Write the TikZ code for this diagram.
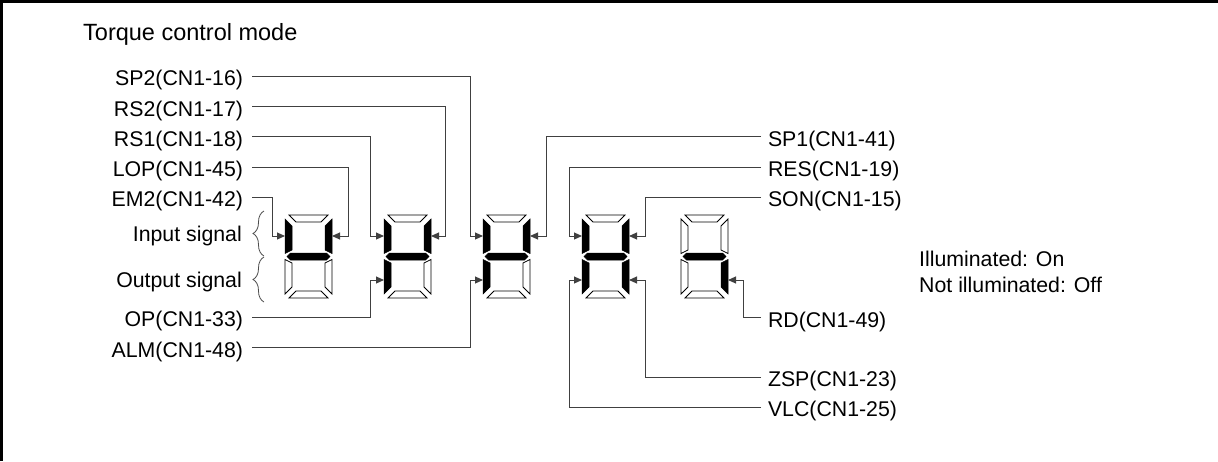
\documentclass[tikz,border=0pt]{standalone}
\usepackage{fontspec}
\setmainfont{Liberation Sans}
\usetikzlibrary{arrows.meta,decorations.pathreplacing}
\tikzset{
  lbl/.style={font=\fontsize{21.3}{25}\selectfont, inner xsep=0pt, inner ysep=0pt, text height=19pt, text depth=0pt},
  lleft/.style={lbl, anchor=east, outer xsep=9pt},
  lright/.style={lbl, anchor=west, outer xsep=7pt},
  plain/.style={font=\fontsize{21.3}{25}\selectfont, inner sep=0pt},
  conn/.style={draw=black!75, line width=1pt},
  arr/.style={conn, -{Triangle[length=8pt,width=7pt]}},
  segon/.style={fill=black, draw=black, line width=0.5pt},
  segoff/.style={fill=white, draw=black, line width=0.8pt},
  brc/.style={draw=black!70, line width=0.8pt, decorate, decoration={brace, amplitude=11pt, aspect=0.5}}
}
\newcommand\segdig[8]{%
\begin{scope}[shift={(#1,215)}]
\path[#2] (4,0) -- (43,0) -- (36,7) -- (11,7) -- cycle;
\path[#3] (47,4) -- (40,11) -- (40,35) -- (47,38.5) -- cycle;
\path[#4] (47,79) -- (40,72) -- (40,48) -- (47,44.5) -- cycle;
\path[#5] (4,83) -- (43,83) -- (36,76) -- (11,76) -- cycle;
\path[#6] (0,79) -- (7,72) -- (7,48) -- (0,44.5) -- cycle;
\path[#7] (0,4) -- (7,11) -- (7,35) -- (0,38.5) -- cycle;
\path[#8] (2,41.5) -- (5.5,38) -- (41.5,38) -- (45,41.5) -- (41.5,45) -- (5.5,45) -- cycle;
\end{scope}}
\begin{document}
\begin{tikzpicture}[x=1pt,y=-1pt]
\useasboundingbox (0,0) rectangle (1218,461);
% frame
\draw[line width=2.5pt] (1.25,461) -- (1.25,1.25) -- (1218,1.25);
% title
\node[font=\fontsize{23.5}{28}\selectfont, inner sep=0pt, anchor=base west] (title) at (83,40.7) {Torque control mode};
% digits
\segdig{285}{segoff}{segon}{segoff}{segoff}{segoff}{segon}{segon}
\segdig{384}{segoff}{segon}{segoff}{segoff}{segon}{segon}{segon}
\segdig{483}{segoff}{segon}{segoff}{segoff}{segon}{segon}{segon}
\segdig{582}{segoff}{segon}{segon}{segoff}{segon}{segon}{segon}
\segdig{681}{segoff}{segoff}{segon}{segoff}{segoff}{segoff}{segon}
% arrow targets
\coordinate (d1ul) at (285,236); \coordinate (d1ur) at (332,236);
\coordinate (d2ul) at (384,236); \coordinate (d2ur) at (431,236);
\coordinate (d2ll) at (384,280);
\coordinate (d3ul) at (483,236); \coordinate (d3ur) at (530,236);
\coordinate (d3ll) at (483,280);
\coordinate (d4ul) at (582,236); \coordinate (d4ur) at (629,236);
\coordinate (d4ll) at (582,280); \coordinate (d4lr) at (629,280);
\coordinate (d5lr) at (728,280);
% left labels
\node[lleft] (sp2) at (252,76) {SP2(CN1-16)};
\node[lleft] (rs2) at (252,106.5) {RS2(CN1-17)};
\node[lleft] (rs1) at (252,136.5) {RS1(CN1-18)};
\node[lleft] (lop) at (252,167) {LOP(CN1-45)};
\node[lleft] (em2) at (252,197) {EM2(CN1-42)};
\node[lleft] (op) at (252,317) {OP(CN1-33)};
\node[lleft] (alm) at (252,347.5) {ALM(CN1-48)};
% right labels
\node[lright] (sp1) at (761,136.5) {SP1(CN1-41)};
\node[lright] (res) at (761,167) {RES(CN1-19)};
\node[lright] (son) at (761,197) {SON(CN1-15)};
\node[lright] (rd) at (761,317.5) {RD(CN1-49)};
\node[lright] (zsp) at (761,377) {ZSP(CN1-23)};
\node[lright] (vlc) at (761,407) {VLC(CN1-25)};
% braces and their texts
\node[plain, anchor=base east] (insig) at (242,241.7) {Input signal};
\node[plain, anchor=base east] (outsig) at (242,287.7) {Output signal};
\draw[brc] (264,256) -- (264,211);
\draw[brc] (264,302) -- (264,257);
% legend
\node[plain, anchor=base west] (leg1) at (919,266) {Illuminated: On};
\node[plain, anchor=base west] (leg2) at (919,292.3) {Not illuminated: Off};
% connectors, left
\draw[arr] (sp2.east) -| ([xshift=-13pt]d3ul) -- (d3ul);
\draw[arr] (rs2.east) -| ([xshift=14pt]d2ur) -- (d2ur);
\draw[arr] (rs1.east) -| ([xshift=-14pt]d2ul) -- (d2ul);
\draw[arr] (lop.east) -| ([xshift=16pt]d1ur) -- (d1ur);
\draw[arr] (em2.east) -| ([xshift=-13pt]d1ul) -- (d1ul);
\draw[arr] (op.east) -| ([xshift=-14pt]d2ll) -- (d2ll);
\draw[arr] (alm.east) -| ([xshift=-13pt]d3ll) -- (d3ll);
% connectors, right
\draw[arr] (sp1.west) -| ([xshift=16pt]d3ur) -- (d3ur);
\draw[arr] (res.west) -| ([xshift=-13pt]d4ul) -- (d4ul);
\draw[arr] (son.west) -| ([xshift=16pt]d4ur) -- (d4ur);
\draw[arr] (rd.west) -| ([xshift=15pt]d5lr) -- (d5lr);
\draw[arr] (zsp.west) -| ([xshift=16pt]d4lr) -- (d4lr);
\draw[arr] (vlc.west) -| ([xshift=-13pt]d4ll) -- (d4ll);
\end{tikzpicture}
\end{document}
